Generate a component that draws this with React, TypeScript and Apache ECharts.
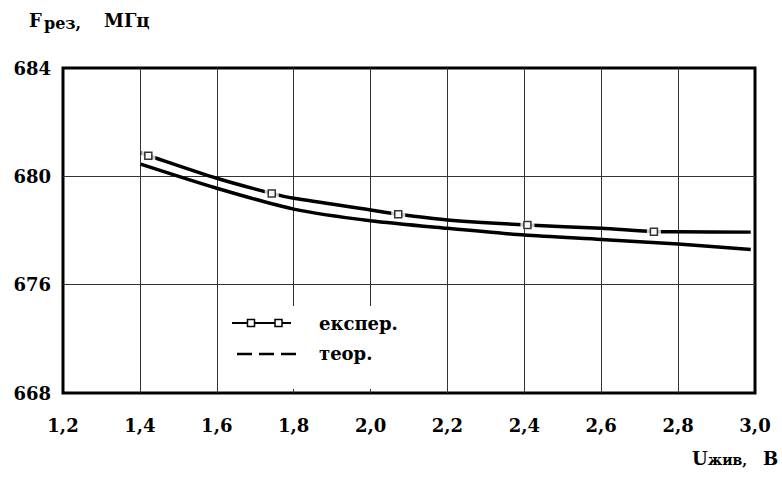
import React, { useEffect, useRef } from "react";
import * as echarts from "echarts";

// Experimental curve (line) and its measured points (markers)
const expLineX = [1.402, 1.422, 1.6, 1.743, 1.8, 2.0, 2.072, 2.2, 2.408, 2.6, 2.737, 2.8, 2.989];
const expLineY = [680.87, 680.77, 679.93, 679.37, 679.19, 678.76, 678.6, 678.39, 678.2, 678.08, 677.96, 677.95, 677.94];
const expPointX = [1.422, 1.743, 2.072, 2.408, 2.737];
const expPointY = [680.76, 679.37, 678.6, 678.2, 677.95];

// Theoretical curve
const theorX = [1.402, 1.6, 1.8, 2.0, 2.2, 2.4, 2.6, 2.8, 2.989];
const theorY = [680.45, 679.56, 678.79, 678.36, 678.08, 677.83, 677.67, 677.5, 677.3];

// Axis settings / tick labels
const xMin = 1.2;
const xMax = 3.0;
const xStep = 0.2;
const yMin = 672;
const yMax = 684;
const yStep = 4;
const yTickLabels: Record<number, string> = { 672: "668", 676: "676", 680: "680", 684: "684" };

const legendNames = ["експер.", "теор."];

const FONT = '"DejaVu Serif", "Liberation Serif", serif';

export default function App() {
  const ref = useRef<HTMLDivElement>(null);

  useEffect(() => {
    document.body.style.margin = "0";
    if (!ref.current) return;
    const chart = echarts.init(ref.current, undefined, { renderer: "svg" });
    const zip = (xs: number[], ys: number[]) => xs.map((x, i) => [x, ys[i]]);

    const txt = (text: string, x: number, y: number, size: number, extra: any = {}) => ({
      type: "text",
      x,
      y,
      z: 110,
      style: {
        text,
        fontFamily: FONT,
        fontWeight: "bold",
        fontSize: size,
        fill: "#000",
        verticalAlign: "bottom",
        ...extra,
      },
    });

    chart.setOption({
      animation: false,
      backgroundColor: "#fff",
      grid: {
        left: 63,
        right: 27,
        top: 68,
        bottom: 88,
        show: true,
        borderColor: "#000",
        borderWidth: 3,
        backgroundColor: "transparent",
      },
      xAxis: {
        type: "value",
        min: xMin,
        max: xMax,
        interval: xStep,
        axisLine: { show: false },
        axisTick: { show: false },
        splitLine: { show: true, showMinLine: false, showMaxLine: false, lineStyle: { color: "#333", width: 1 } },
        axisLabel: {
          margin: 23,
          fontFamily: FONT,
          fontWeight: "bold",
          fontSize: 18,
          color: "#000",
          formatter: (v: number) => v.toFixed(1).replace(".", ","),
        },
      },
      yAxis: {
        type: "value",
        min: yMin,
        max: yMax,
        interval: yStep,
        axisLine: { show: false },
        axisTick: { show: false },
        splitLine: { show: true, showMinLine: false, showMaxLine: false, lineStyle: { color: "#333", width: 1 } },
        axisLabel: {
          margin: 12,
          fontFamily: FONT,
          fontWeight: "bold",
          fontSize: 18,
          color: "#000",
          formatter: (v: number) => yTickLabels[Math.round(v)] ?? String(v),
        },
      },
      series: [
        {
          name: legendNames[0],
          type: "line",
          data: zip(expLineX, expLineY),
          symbol: "none",
          smooth: 0.25,
          lineStyle: { color: "#000", width: 3.5 },
          z: 2,
        },
        {
          name: legendNames[1],
          type: "line",
          data: zip(theorX, theorY),
          symbol: "none",
          smooth: 0.25,
          lineStyle: { color: "#000", width: 3.5 },
          z: 2,
        },
        {
          type: "scatter",
          data: zip(expPointX, expPointY),
          symbol: "rect",
          symbolSize: [14, 9],
          itemStyle: { color: "#fff", borderWidth: 0 },
          z: 3,
        },
        {
          type: "scatter",
          data: zip(expPointX, expPointY),
          symbol: "rect",
          symbolSize: 7,
          itemStyle: { color: "#fff", borderColor: "#000", borderWidth: 1.5 },
          z: 4,
        },
      ],
      graphic: [
        // y-axis title
        txt("F", 29, 29, 18),
        txt("рез,", 44, 31, 16),
        txt("МГц", 104, 29, 18),
        // x-axis title
        txt("U", 692, 467, 18),
        txt("жив,", 708, 467, 14),
        txt("В", 763, 467, 18),
        // legend box
        {
          type: "rect",
          z: 100,
          shape: { x: 222, y: 306, width: 220, height: 83 },
          style: { fill: "#fff", stroke: null },
        },
        {
          type: "line",
          z: 110,
          shape: { x1: 232, y1: 323, x2: 291, y2: 323 },
          style: { stroke: "#000", lineWidth: 2 },
        },
        {
          type: "rect",
          z: 111,
          shape: { x: 247.5, y: 319.5, width: 7, height: 7 },
          style: { fill: "#fff", stroke: "#000", lineWidth: 1.5 },
        },
        {
          type: "rect",
          z: 111,
          shape: { x: 275, y: 319.5, width: 7, height: 7 },
          style: { fill: "#fff", stroke: "#000", lineWidth: 1.5 },
        },
        {
          type: "line",
          z: 110,
          shape: { x1: 237, y1: 354, x2: 297, y2: 354 },
          style: { stroke: "#000", lineWidth: 2.5, lineDash: [15, 7] },
        },
        txt(legendNames[0], 319, 323, 18, { verticalAlign: "middle" }),
        txt(legendNames[1], 319, 353, 18, { verticalAlign: "middle" }),
      ],
    });
    return () => chart.dispose();
  }, []);

  return <div ref={ref} style={{ width: 782, height: 481 }} />;
}
